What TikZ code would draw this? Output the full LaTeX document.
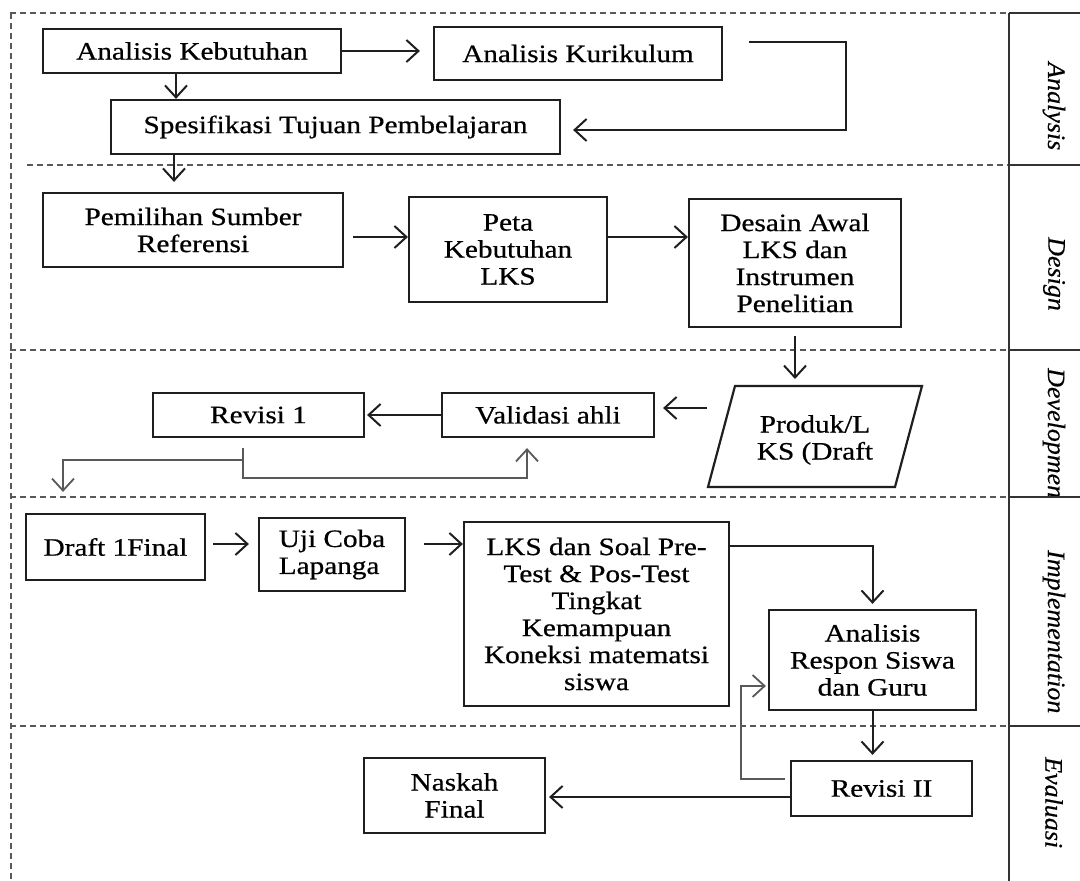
\documentclass[tikz,border=0pt]{standalone}
\usepackage{fontspec}
\setmainfont{Liberation Serif}[FakeStretch=1.17,FakeBold=0.6]
\newfontfamily\labfont{Liberation Serif}[FakeStretch=1.04,FakeBold=0.4]
\usetikzlibrary{arrows.meta,calc}
\begin{document}
\begin{tikzpicture}[x=1pt,y=-1pt,font=\fontsize{25}{27}\selectfont,
  box/.style={draw=black!88,line width=2.2pt,align=center,inner sep=2pt},
  arr/.style={draw=black!88,line width=2pt,-{Straight Barb[length=12pt,width=22pt,line width=2pt]}},
  thinarr/.style={draw=black!65,line width=1.4pt,-{Straight Barb[length=12pt,width=22pt,line width=1.8pt]}},
  dashline/.style={draw=black!65,line width=1.5pt,dash pattern=on 6pt off 4pt},
  colline/.style={draw=black!80,line width=1.8pt},
  lab/.style={font=\labfont\itshape\fontsize{25}{27}\selectfont,rotate=-90,anchor=west,inner sep=0pt}]
\useasboundingbox (0,0) rectangle (1080,881);
\fill[white] (0,0) rectangle (1080,881);

% phase frame
\draw[dashline] (10,13) -- (1009,13);
\draw[dashline] (11,13) -- (11,881);
\draw[dashline] (27,165) -- (1009,165);
\draw[dashline] (10,350) -- (1009,350);
\draw[dashline] (10,497) -- (1009,497);
\draw[dashline] (10,726) -- (1009,726);
\draw[colline] (1009,13) -- (1080,13);
\draw[colline] (1009,13) -- (1009,881);
\draw[colline] (1009,165) -- (1080,165);
\draw[colline] (1009,350) -- (1080,350);
\draw[colline] (1009,497) -- (1080,497);
\draw[colline] (1009,726) -- (1080,726);

% phase labels
\node[lab] (lanalysis) at (1054,62) {Analysis};
\node[lab] (ldesign) at (1054,237) {Design};
\begin{scope}
\clip (1010,351) rectangle (1080,495);
\node[lab] (ldevel) at (1054,368) {Development};
\end{scope}
\node[lab] (limpl) at (1054,550) {Implementation};
\node[lab] (leval) at (1054,757) {Evaluasi};

% Analysis
\node[box,minimum width=298pt,minimum height=44pt] (ak) at (192,51) {Analisis Kebutuhan};
\node[box,minimum width=288pt,minimum height=53pt] (akur) at (578,53.5) {Analisis Kurikulum};
\node[box,minimum width=449pt,minimum height=54pt] (stp) at (335.5,127) {Spesifikasi Tujuan Pembelajaran};

% Design
\node[box,minimum width=300pt,minimum height=74pt] (pem) at (193,230) {Pemilihan Sumber\\Referensi};
\node[box,minimum width=198pt,minimum height=105pt] (peta) at (508,249.5) {Peta\\Kebutuhan\\LKS};
\node[box,minimum width=212pt,minimum height=128pt] (desain) at (795,263) {Desain Awal\\LKS dan\\Instrumen\\Penelitian};

% Development
\coordinate (pbl) at (708,487);
\coordinate (ptl) at (735,386);
\coordinate (ptr) at (922,386);
\coordinate (pbr) at (895,487);
\coordinate (ptop) at (815,386);
\coordinate (pout) at (707,408);
\draw[draw=black!88,line width=2.2pt] (pbl) -- (ptl) -- (ptr) -- (pbr) -- cycle;
\node[align=center,inner sep=0pt] (produk) at (815,440) {Produk/L\\KS (Draft};
\node[box,minimum width=212pt,minimum height=44pt] (val) at (548,415) {Validasi ahli};
\node[box,minimum width=211pt,minimum height=44pt] (rev1) at (258.5,415) {Revisi 1};

% Implementation
\node[box,minimum width=179pt,minimum height=66pt] (draft) at (115.5,547) {Draft 1Final};
\node[box,minimum width=146pt,minimum height=73pt,align=left] (uji) at (332,554.5) {Uji Coba\\Lapanga};
\node[box,minimum width=265pt,minimum height=184pt] (lks) at (596.5,614) {LKS dan Soal Pre-\\Test \& Pos-Test\\Tingkat\\Kemampuan\\Koneksi matematsi\\siswa};
\node[box,minimum width=207pt,minimum height=100pt] (respon) at (872.5,660) {Analisis\\Respon Siswa\\dan Guru};

% Evaluasi
\node[box,minimum width=181pt,minimum height=55pt] (rev2) at (881.5,788.5) {Revisi II};
\node[box,minimum width=181pt,minimum height=75pt] (naskah) at (454.5,795.5) {Naskah\\Final};

% connectors
\draw[arr,shorten >=13pt] (ak.east) -- (ak.east -| akur.west);
\draw[arr] ([xshift=-16pt]ak.south) -- ([xshift=-16pt]ak.south |- stp.north);
\draw[arr] ([xshift=26pt,yshift=11.5pt]akur.east) -- ++(97,0) |- ([xshift=12pt,yshift=-3pt]stp.east);
\draw[arr,shorten >=10pt] ([xshift=-19pt]pem.north |- stp.south) -- ([xshift=-19pt]pem.north);
\draw[arr,shorten <=9pt] ([yshift=-7pt]pem.east) -- ([yshift=-7pt]pem.east -| peta.west);
\draw[arr] ([yshift=12.5pt]peta.east) -- ([yshift=12.5pt]peta.east -| desain.west);
\draw[arr,shorten <=8pt,shorten >=7pt] (desain.south) -- (desain.south |- ptop);
\draw[arr,shorten >=8pt] (pout) -- (pout -| val.east);
\draw[arr,shorten >=2pt] (val.west |- rev1.east) -- (rev1.east);
\draw[thinarr] ([xshift=-15.5pt,yshift=-10pt]rev1.south) |- ([xshift=-21pt,yshift=-40pt]val.south) -- ([xshift=-21pt,yshift=-10pt]val.south);
\draw[thinarr] ([xshift=-15.5pt,yshift=-22pt]rev1.south) -| ([xshift=-52.5pt,yshift=21pt]draft.north);
\draw[arr,shorten <=7pt,shorten >=9pt] ([yshift=3pt]draft.east) -- ([yshift=3pt]draft.east -| uji.west);
\draw[arr,shorten <=18pt] ([yshift=10.5pt]uji.east) -- ([yshift=10.5pt]uji.east -| lks.west);
\draw[arr,shorten >=5pt] ([yshift=68pt]lks.east) -| (respon.north);
\draw[arr,shorten >=5pt] (respon.south) -- (respon.south |- rev2.north);
\draw[thinarr,shorten >=2pt] ([xshift=-5pt,yshift=9.5pt]rev2.west) -- ++(-44,0) |- ([yshift=-26pt]respon.west);
\draw[arr,shorten >=3pt] ([yshift=-8.5pt]rev2.west) -- ([yshift=-8.5pt]rev2.west -| naskah.east);
\end{tikzpicture}
\end{document}
